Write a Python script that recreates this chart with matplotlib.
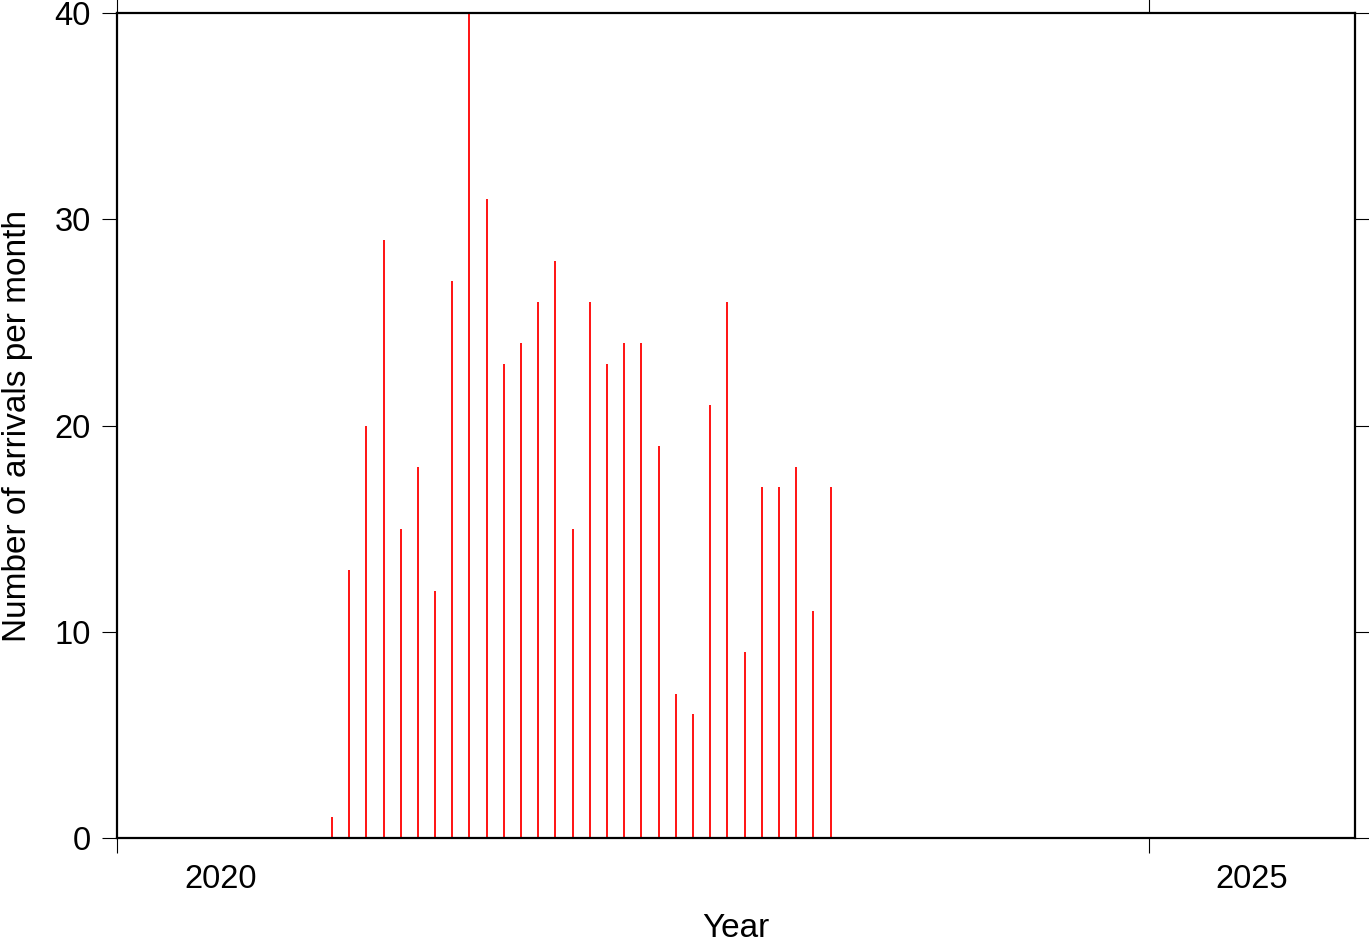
import numpy as np
import matplotlib
matplotlib.use('Agg')
import matplotlib.pyplot as plt
from matplotlib.ticker import FixedLocator, NullFormatter, FixedFormatter

plt.rcParams['font.family'] = ['Liberation Sans', 'DejaVu Sans']

# monthly arrival counts, Jan 2021 .. Jun 2023
first_year = 2021
counts = [1, 13, 20, 29, 15, 18, 12, 27, 40, 31, 23, 24,
          26, 28, 15, 26, 23, 24, 24, 19, 7, 6, 21, 26,
          9, 17, 17, 18, 11, 17]
year_labels = ['2020', '2025']

# month centres as decimal years
months = np.arange(len(counts))
xpos = first_year + (months + 0.5) / 12.0

fig = plt.figure(figsize=(13.69, 9.42), dpi=100)
ax = fig.add_axes([117/1369, 1 - 838/942, (1355-117)/1369, (838-13)/942])

ax.vlines(xpos, 0, counts, colors='#ff0000', linewidth=1.3)

ax.set_xlim(2020, 2026)
ax.set_ylim(0, 40)

# GMT style: ticks at year starts, labels centred in the year interval
ax.xaxis.set_major_locator(FixedLocator([2020, 2025]))
ax.xaxis.set_major_formatter(NullFormatter())
ax.xaxis.set_minor_locator(FixedLocator([2020.5, 2025.5]))
ax.xaxis.set_minor_formatter(FixedFormatter(year_labels))
ax.tick_params(axis='x', which='minor', length=0, pad=19, labelsize=23.5)
ax.tick_params(axis='x', which='major', length=11, width=0.8, direction='out', top=True)

ax.set_yticks([0, 10, 20, 30, 40])
ax.tick_params(axis='y', length=11, width=0.8, direction='out', right=True,
               labelsize=23.5, pad=8)

for s in ax.spines.values():
    s.set_linewidth(1.6)

ax.set_xlabel('Year', fontsize=24, labelpad=13)
ax.set_ylabel('Number of arrivals per month', fontsize=24, labelpad=15)

fig.savefig('out.png', dpi=100)
